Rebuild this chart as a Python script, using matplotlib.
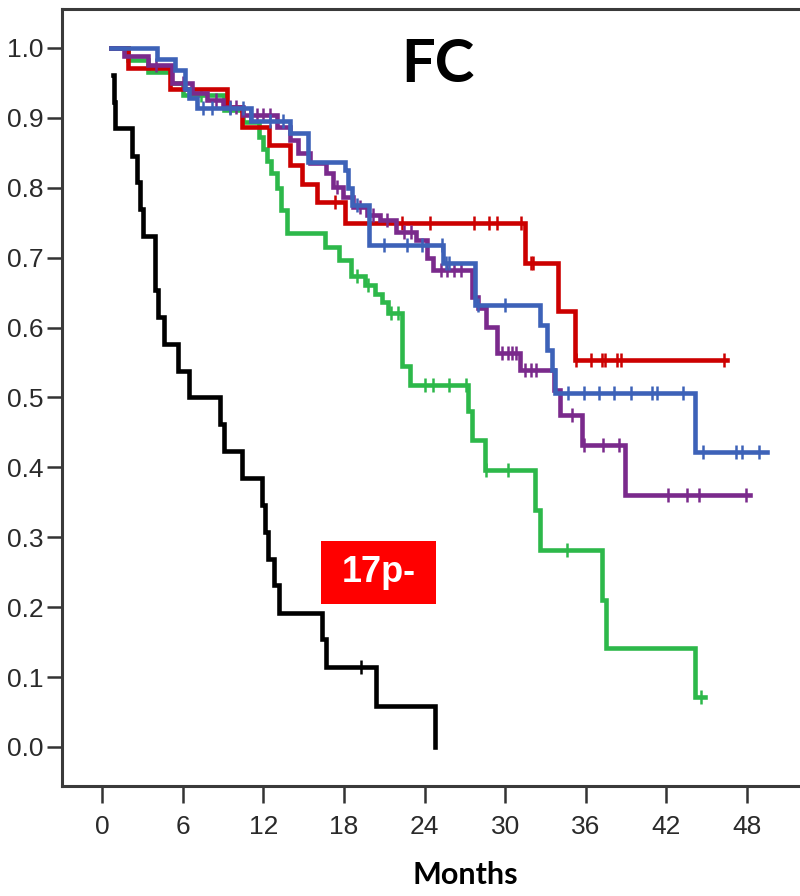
import numpy as np
import matplotlib
matplotlib.use("Agg")
import matplotlib.pyplot as plt
import matplotlib.patches as patches

TICKFONT = ["Liberation Sans Narrow", "Liberation Sans", "DejaVu Sans"]
HEADFONT = ["Lato", "DejaVu Sans"]

# Kaplan-Meier curves: step times (first = start), survival after each step, end of follow-up
black_t = [0.84, 0.86, 0.95, 2.25, 2.57, 2.83, 3.02, 3.96, 4.18, 4.6, 5.65, 6.47, 8.78, 9.08,
           10.45, 11.94, 12.1, 12.36, 12.8, 13.2, 16.4, 16.67, 20.4, 24.75]
black_s = [0.962, 0.923, 0.885, 0.846, 0.808, 0.769, 0.731, 0.654, 0.615, 0.577, 0.538, 0.5,
           0.462, 0.423, 0.385, 0.346, 0.308, 0.269, 0.231, 0.192, 0.154, 0.115, 0.058, 0.0]
black_end = 24.75
black_cens = [19.3]

green_t = [0.7, 1.9, 3.4, 5.1, 6.0, 9.1, 10.5, 11.7, 12.0, 12.3, 12.6, 13.0, 13.3, 13.8, 16.6,
           17.6, 18.5, 19.6, 20.3, 20.8, 21.3, 22.3, 22.9, 27.25, 27.5, 28.5, 32.2, 32.6, 37.2,
           37.5, 44.1]
green_s = [1.0, 0.983, 0.966, 0.95, 0.933, 0.911, 0.894, 0.872, 0.855, 0.838, 0.821, 0.80, 0.768,
           0.735, 0.715, 0.697, 0.674, 0.661, 0.648, 0.636, 0.621, 0.545, 0.518, 0.48, 0.439,
           0.396, 0.339, 0.282, 0.21, 0.141, 0.072]
green_end = 44.9
green_cens = [7.4, 19.0, 19.8, 21.5, 22.0, 24.0, 24.6, 25.8, 27.1, 28.6, 30.2, 34.6, 44.6]

red_t = [0.7, 1.96, 5.06, 9.28, 10.4, 12.4, 14.0, 14.9, 16.0, 18.1, 31.5, 33.95, 35.2]
red_s = [1.0, 0.971, 0.942, 0.916, 0.887, 0.861, 0.833, 0.806, 0.78, 0.749, 0.692, 0.623, 0.554]
red_end = 46.5
red_cens = [17.3, 22.3, 24.4, 27.7, 28.8, 29.4, 31.2, 31.9, 32.1, 35.3, 36.4, 37.2, 37.4, 38.3,
            38.6, 46.3]

purple_t = [0.7, 1.6, 3.4, 5.2, 6.7, 7.8, 9.0, 10.5, 13.0, 14.0, 14.6, 15.5, 16.7, 17.2, 17.9,
            18.7, 19.7, 20.7, 21.9, 23.4, 24.2, 24.6, 27.5, 28.0, 28.6, 29.4, 31.1, 33.6, 34.1,
            35.7, 38.9]
purple_s = [1.0, 0.988, 0.976, 0.95, 0.935, 0.926, 0.916, 0.904, 0.887, 0.868, 0.85, 0.835, 0.821,
            0.801, 0.787, 0.773, 0.761, 0.754, 0.737, 0.725, 0.7, 0.682, 0.644, 0.628, 0.601,
            0.563, 0.539, 0.511, 0.475, 0.432, 0.36]
purple_end = 48.2
purple_cens = [4.0, 6.0, 8.5, 9.5, 10.0, 11.0, 11.5, 12.0, 12.5, 17.5, 19.2, 20.2, 21.2, 22.5,
               23.0, 25.2, 25.7, 26.2, 26.7, 29.8, 30.2, 30.5, 30.8, 31.5, 31.9, 32.3, 35.0,
               35.9, 37.3, 38.5, 42.1, 43.5, 44.4, 47.9]

blue_t = [0.7, 4.07, 5.43, 6.18, 6.5, 7.04, 11.1, 14.0, 15.3, 18.1, 18.3, 18.6, 19.9, 25.4,
          27.75, 32.6, 33.1, 33.5, 33.7, 44.1]
blue_s = [1.0, 0.984, 0.968, 0.942, 0.928, 0.914, 0.895, 0.878, 0.837, 0.825, 0.8, 0.775, 0.718,
          0.692, 0.632, 0.604, 0.568, 0.539, 0.506, 0.422]
blue_end = 49.5
blue_cens = [7.5, 8.2, 9.5, 10.5, 12.5, 13.5, 19.0, 21.0, 22.7, 23.8, 25.3, 25.6, 25.8, 28.0,
             30.0, 34.7, 35.9, 37.0, 38.1, 39.4, 40.9, 41.3, 43.2, 44.75, 47.2, 47.6, 48.9]

curves = [
    (green_t, green_s, green_end, green_cens, "#2db84a"),
    (red_t, red_s, red_end, red_cens, "#cc0000"),
    (purple_t, purple_s, purple_end, purple_cens, "#7a2a8c"),
    (blue_t, blue_s, blue_end, blue_cens, "#3d62b8"),
    (black_t, black_s, black_end, black_cens, "black"),
]

x_ticks = list(range(0, 49, 6))
y_ticks = [i / 10 for i in range(11)]

fig = plt.figure(figsize=(8, 8.96), dpi=100)
ax = fig.add_axes([0.0775, 0.1228, 1.0075, 0.8672])

for t, s, end, cens, col in curves:
    xs = list(t) + [end]
    ys = list(s) + [s[-1]]
    ax.step(xs, ys, where="post", color=col, lw=3.3, solid_joinstyle="miter")
    idx = np.searchsorted(t, cens, side="right") - 1
    ax.plot(cens, np.array(s)[idx], ls="none", marker="|", ms=10, mew=1.8, color=col)

ax.set_xlim(-2.98, 57)
ax.set_ylim(-0.0558, 1.0558)
ax.set_xticks(x_ticks)
ax.set_yticks(y_ticks)
ax.set_yticklabels([f"{v:.1f}" for v in y_ticks])
for lab in ax.get_xticklabels() + ax.get_yticklabels():
    lab.set_family(TICKFONT)
    lab.set_fontsize(19)
    lab.set_color("#2a2a2a")
ax.tick_params(axis="y", length=11, width=1.8, pad=2, color="#333333")
ax.tick_params(axis="x", length=12, width=1.8, pad=9, color="#333333")
for sp in ax.spines.values():
    sp.set_linewidth(2.2)
    sp.set_color("#3a3a3a")

ax.set_xlabel("Months", family=HEADFONT, fontweight="bold", fontsize=22, labelpad=16)

ax.text(25.0, 0.975, "FC", family=HEADFONT, fontweight="bold", fontsize=43,
        ha="center", va="center")

# red label box for the 17p- curve
ax.add_patch(patches.Rectangle((16.3, 0.205), 8.55, 0.09, facecolor="#ff0000",
                               edgecolor="none", zorder=5))
ax.text(20.6, 0.25, "17p-", color="white", fontweight="bold", fontsize=26,
        family=["Liberation Sans", "DejaVu Sans"], ha="center", va="center", zorder=6)

fig.savefig("out.png", dpi=100)
